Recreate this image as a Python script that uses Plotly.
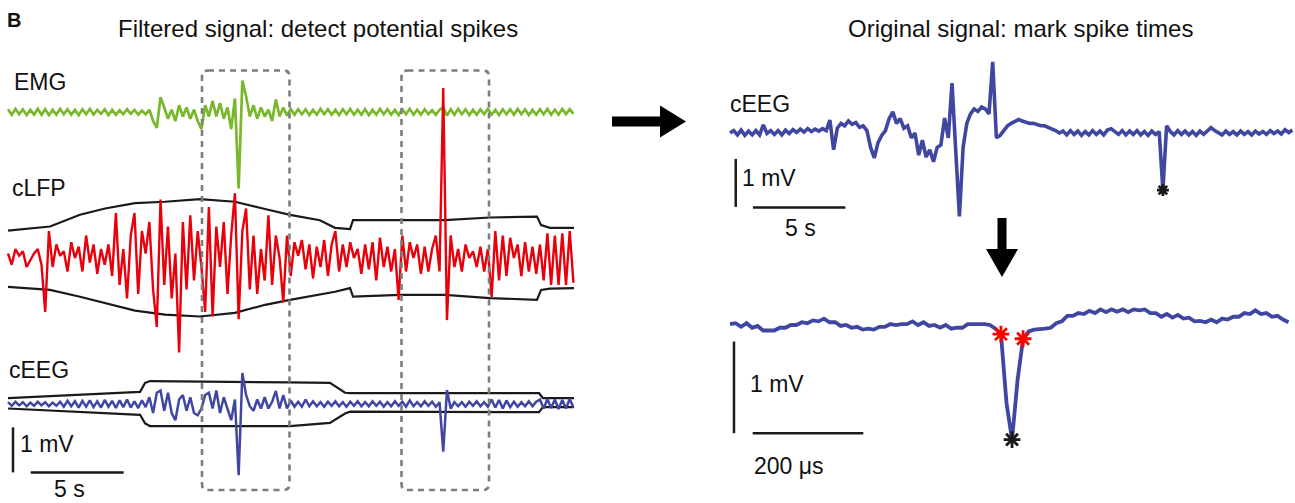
import numpy as np
import plotly.graph_objects as go

# ---------------- data (values in mV) ----------------
DT_LEFT = 0.2      # s between samples, left panel
DT_RTOP = 0.2      # s between samples, right top
DT_ZOOM = 10.0     # microseconds between samples, right bottom

EMG = [0.06,-0.06,0.07,-0.05,0.06,-0.07,0.05,-0.06,0.07,-0.06,
       0.06,-0.07,0.05,-0.06,0.07,-0.05,0.06,-0.06,0.05,-0.07,
       0.06,-0.05,0.07,-0.06,0.05,-0.04,0.06,-0.07,0.05,-0.06,
       0.04,-0.05,0.06,-0.04,0.05,-0.06,0.03,-0.05,0.05,-0.20,
       -0.35,0.33,0.10,-0.15,0.05,-0.20,0.15,-0.10,0.10,-0.15,
       0.05,-0.20,-0.38,0.15,-0.10,0.25,-0.10,0.20,-0.15,0.10,
       -0.38,0.30,-1.70,0.70,0.35,-0.10,0.15,-0.15,0.10,-0.10,
       0.05,-0.20,0.28,-0.10,0.10,-0.08,0.07,-0.06,0.06,-0.05,
       0.06,-0.07,0.05,-0.06,0.07,-0.05,0.06,-0.06,0.05,-0.07,
       0.06,-0.05,0.07,-0.06,0.05,-0.06,0.06,-0.07,0.05,-0.06,
       0.07,-0.05,0.06,-0.06,0.05,-0.07,0.06,-0.05,0.07,-0.06,
       0.05,-0.06,0.06,-0.05,0.04,-0.06,0.05,0.10,-0.08,0.06,
       -0.06,0.07,-0.05,0.06,-0.07,0.05,-0.06,0.06,-0.05,0.07,
       -0.06,0.05,-0.07,0.06,-0.05,0.06,-0.06,0.07,-0.05,0.06,
       -0.07,0.05,-0.06,0.06,-0.05,0.07,-0.06,0.05,-0.06,0.07,
       -0.05,0.06,-0.04]

CLFP = [0.10,-0.15,0.20,0.05,0.15,-0.20,-0.05,0.10,0.20,-0.15,
        -1.20,0.60,-0.20,0.30,0.05,0.15,-0.30,0.35,0.00,0.25,
        -0.30,0.50,-0.10,0.30,-0.35,0.20,-0.15,0.30,-0.40,1.00,
        -0.60,0.20,-0.90,0.50,1.00,-0.80,0.60,0.10,0.80,-0.70,
        -1.53,1.30,-0.60,0.70,-0.90,0.10,-2.10,0.80,-0.70,0.95,
        -0.50,0.60,-0.20,-1.20,1.13,-1.30,0.70,-0.20,0.80,-0.80,
        0.50,1.44,-1.36,0.60,1.10,-0.70,0.50,-0.80,0.20,-0.50,
        0.95,-0.60,0.50,0.00,-0.98,0.50,-0.40,0.35,0.05,0.40,
        -0.25,0.30,-0.45,0.25,-0.20,0.40,-0.40,0.30,0.60,-0.30,
        0.30,-0.20,0.35,0.00,0.20,-0.35,0.30,-0.25,0.35,-0.50,
        0.45,-0.20,0.25,-0.30,0.20,-0.93,0.50,-0.30,0.35,0.00,
        0.30,-0.35,0.25,-0.30,0.20,0.50,-0.30,3.78,-1.38,0.50,
        -0.20,0.20,-0.30,0.30,0.00,0.15,-0.20,0.25,-0.30,0.20,
        -0.87,0.60,-0.50,0.50,-0.40,0.45,0.00,0.30,-0.40,0.35,
        -0.30,0.25,-0.35,0.30,-0.50,0.55,-0.60,0.50,-0.60,0.55,
        -0.60,0.60,-0.55]

CEEG_L = [0.04,-0.04,0.05,-0.03,0.04,-0.05,0.03,-0.04,0.05,-0.03,
          0.04,-0.05,0.03,-0.04,0.05,-0.06,0.07,-0.05,0.06,-0.08,
          0.07,-0.06,0.08,-0.07,0.06,-0.08,0.09,-0.06,0.07,-0.09,
          0.08,-0.07,0.10,-0.08,0.06,-0.09,0.08,-0.07,0.15,-0.20,
          0.25,0.30,-0.15,0.25,-0.20,-0.36,0.10,0.20,-0.15,0.15,
          -0.20,-0.25,-0.10,0.20,0.25,-0.10,0.30,-0.20,0.15,-0.10,
          -0.36,0.10,-1.58,0.69,0.20,-0.05,-0.15,0.10,-0.10,0.15,
          -0.10,0.05,0.29,-0.10,0.20,-0.10,0.08,-0.06,0.05,-0.06,
          0.10,-0.05,0.06,-0.05,0.04,-0.06,0.05,-0.04,0.06,-0.05,
          0.04,-0.06,0.05,-0.04,0.06,-0.05,0.04,-0.05,0.06,-0.04,
          0.05,-0.06,0.04,-0.05,0.06,-0.04,0.05,-0.06,0.08,-0.05,
          0.04,-0.05,0.06,-0.04,0.05,-0.06,0.04,-1.06,0.31,-0.10,
          0.04,-0.05,0.04,-0.06,0.05,-0.04,0.06,-0.05,0.04,-0.06,
          0.10,-0.08,0.09,-0.10,0.08,-0.07,0.05,-0.06,0.04,-0.05,
          0.06,-0.05,0.05,0.10,-0.10,0.11,-0.09,0.10,-0.11,0.09,
          -0.10,0.11,-0.08]

# detection envelopes (time in s, mV)
CLFP_ENV_T = [0, 2.26, 3.87, 5.22, 6.83, 8.44, 10.32, 12.2, 13.82, 15.16, 16.77,
              17.58, 18.39, 18.55, 21.08, 23.49, 25.91, 28.44, 28.66, 29.14, 30.43]
CLFP_ENV_TOP = [0.61, 0.70, 0.96, 1.10, 1.22, 1.25, 1.31, 1.25, 1.09, 0.96, 0.84,
                0.67, 0.64, 0.84, 0.84, 0.84, 0.90, 0.92, 0.73, 0.67, 0.67]
CLFP_ENV_BOT = [-0.64, -0.71, -0.86, -1.00, -1.17, -1.26, -1.30, -1.22, -1.04, -0.93, -0.82,
                -0.75, -0.67, -0.86, -0.82, -0.82, -0.89, -0.93, -0.71, -0.68, -0.67]

CEEG_ENV_T = [0, 7.10, 7.37, 7.63, 15.16, 17.31, 18.12, 18.39, 28.55, 28.76, 30.43]
CEEG_ENV_TOP = [0.13, 0.27, 0.47, 0.51, 0.48, 0.47, 0.25, 0.24, 0.24, 0.13, 0.13]
CEEG_ENV_BOT = [-0.10, -0.24, -0.43, -0.49, -0.49, -0.42, -0.21, -0.17, -0.18, -0.07, -0.07]

CEEG_R = [0.00,0.05,-0.04,0.06,-0.05,0.04,-0.04,0.05,-0.04,0.17,
          -0.01,0.05,-0.03,0.05,-0.04,0.06,-0.01,0.07,0.01,0.08,
          0.02,0.09,0.03,0.08,0.04,0.09,0.05,0.27,-0.35,0.10,
          0.20,0.15,0.25,0.18,0.22,0.12,0.15,0.05,-0.30,-0.52,
          -0.20,-0.05,0.05,0.30,0.44,0.20,0.30,0.10,0.15,-0.10,
          0.00,-0.46,-0.15,-0.50,-0.35,-0.60,-0.30,-0.25,0.31,-0.10,
          1.04,-0.45,-1.74,-0.30,0.20,0.40,0.50,0.45,0.54,0.50,
          0.40,1.48,-0.10,-0.05,0.05,0.15,0.20,0.25,0.28,0.25,
          0.22,0.20,0.20,0.18,0.15,0.15,0.12,0.10,0.05,0.00,
          0.04,-0.04,0.05,-0.03,0.04,-0.05,0.03,-0.04,0.05,-0.03,
          0.04,-0.04,0.06,0.09,0.02,-0.03,0.05,-0.04,0.04,-0.03,
          0.05,-0.04,0.03,-0.05,0.04,-0.03,0.03,-1.19,0.15,0.03,
          -0.04,0.05,-0.03,0.04,-0.04,0.03,-0.05,0.04,-0.03,0.05,
          0.11,0.05,0.01,-0.04,0.04,-0.03,0.03,-0.04,0.04,-0.03,
          0.03,-0.04,0.04,-0.02,0.03,-0.03,0.05,-0.01,0.04,-0.02,
          0.07,0.01,0.06]
CEEG_R_SPIKE_IDX = [117]

CEEG_ZOOM = [0.01,0.02,-0.02,0.02,-0.03,-0.01,-0.06,-0.06,-0.06,-0.03,
             -0.03,0.00,0.00,0.03,0.02,0.05,0.04,0.07,0.03,0.03,
             -0.01,0.00,-0.03,-0.02,-0.05,-0.04,-0.05,-0.02,-0.02,0.01,
             0.00,0.01,0.01,0.04,0.00,0.03,-0.01,0.00,-0.03,0.00,
             -0.04,-0.03,-0.03,0.01,0.01,0.02,0.01,0.00,-0.04,-0.10,
             -0.85,-1.25,-0.60,-0.15,-0.07,-0.05,-0.05,-0.04,-0.03,0.02,
             0.04,0.10,0.10,0.13,0.12,0.155,0.13,0.17,0.14,0.17,
             0.145,0.17,0.14,0.17,0.16,0.17,0.13,0.13,0.09,0.12,
             0.08,0.11,0.07,0.08,0.04,0.045,0.03,0.06,0.03,0.07,
             0.06,0.09,0.09,0.13,0.12,0.16,0.12,0.13,0.09,0.10,
             0.06,0.03]
ZOOM_BOUND_IDX = [49, 53]
ZOOM_PEAK_IDX = [51]

SCALE_MV = 1.0
SCALE_S = 5.0
SCALE_US = 200.0

# ---------------- layout geometry ----------------
W, H = 1295, 503
FONT = "Liberation Sans, Arial, sans-serif"
GREEN, RED, BLUE, BLACK = "#78b82a", "#e8000b", "#4047a1", "#1a1a1a"


def xr(x0_px, ppu):
    return [-x0_px / ppu, (W - x0_px) / ppu]


def yr(yc_px, ppu):
    return [-(H - yc_px) / ppu, yc_px / ppu]


def px(x):
    return x / W


def py(y):
    return 1 - y / H


L_X0, L_PPS, L_PPMV = 8, 18.6, 45
RT_X0, RT_PPS, RT_PPMV = 730, 18.5, 48
RB_X0, RB_PPUS, RB_PPMV = 730, 0.553, 91.7

t_left = np.arange(len(EMG)) * DT_LEFT
t_clfp = np.arange(len(CLFP)) * DT_LEFT
t_ceeg = np.arange(len(CEEG_L)) * DT_LEFT
t_rtop = np.arange(len(CEEG_R)) * DT_RTOP
t_zoom = np.arange(len(CEEG_ZOOM)) * DT_ZOOM

fig = go.Figure()


def line(x, y, xa, ya, color, w=2.0):
    fig.add_trace(go.Scatter(x=x, y=y, xaxis=xa, yaxis=ya, mode="lines",
                             line=dict(color=color, width=w), hoverinfo="skip",
                             showlegend=False))


line(t_left, EMG, "x", "y", GREEN, 2.7)
line(CLFP_ENV_T, CLFP_ENV_TOP, "x", "y2", BLACK, 2.2)
line(CLFP_ENV_T, CLFP_ENV_BOT, "x", "y2", BLACK, 2.2)
line(t_clfp, CLFP, "x", "y2", RED, 2.4)
line(CEEG_ENV_T, CEEG_ENV_TOP, "x", "y3", BLACK, 2.2)
line(CEEG_ENV_T, CEEG_ENV_BOT, "x", "y3", BLACK, 2.2)
line(t_ceeg, CEEG_L, "x", "y3", BLUE, 2.5)
line(t_rtop, CEEG_R, "x2", "y4", BLUE, 3.6)
line(t_zoom, CEEG_ZOOM, "x3", "y5", BLUE, 3.8)


def stars(x, y, xa, ya, color, size):
    fig.add_trace(go.Scatter(x=x, y=y, xaxis=xa, yaxis=ya, mode="markers",
                             marker=dict(symbol="asterisk-open", size=size, color=color,
                                         line=dict(color=color, width=2.8)),
                             hoverinfo="skip", showlegend=False))


stars([t_rtop[i] for i in CEEG_R_SPIKE_IDX], [CEEG_R[i] for i in CEEG_R_SPIKE_IDX],
      "x2", "y4", BLACK, 10)
stars([t_zoom[i] for i in ZOOM_BOUND_IDX], [CEEG_ZOOM[i] for i in ZOOM_BOUND_IDX],
      "x3", "y5", "#ff0000", 14)
stars([t_zoom[i] for i in ZOOM_PEAK_IDX], [CEEG_ZOOM[i] for i in ZOOM_PEAK_IDX],
      "x3", "y5", BLACK, 14)

ax = dict(visible=False, domain=[0, 1], fixedrange=True)
fig.update_layout(
    width=W, height=H, margin=dict(l=0, r=0, t=0, b=0),
    paper_bgcolor="white", plot_bgcolor="rgba(0,0,0,0)",
    xaxis=dict(ax, range=xr(L_X0, L_PPS), anchor="y"),
    xaxis2=dict(ax, range=xr(RT_X0, RT_PPS), anchor="y4"),
    xaxis3=dict(ax, range=xr(RB_X0, RB_PPUS), anchor="y5"),
    yaxis=dict(ax, range=yr(112, L_PPMV), anchor="x"),
    yaxis2=dict(ax, range=yr(258, L_PPMV), anchor="x"),
    yaxis3=dict(ax, range=yr(404, L_PPMV), anchor="x"),
    yaxis4=dict(ax, range=yr(133, RT_PPMV), anchor="x2"),
    yaxis5=dict(ax, range=yr(325, RB_PPMV), anchor="x3"),
    font=dict(family=FONT, color="#111"),
)

shapes = []
# scale bars (data coordinates)
sb = dict(type="line", line=dict(color=BLACK, width=2.5), layer="above")
shapes += [
    dict(sb, xref="x", yref="y3", x0=0.27, x1=0.27, y0=-1.52, y1=-1.52 + SCALE_MV),
    dict(sb, xref="x", yref="y3", x0=1.22, x1=1.22 + SCALE_S, y0=-1.52, y1=-1.52),
    dict(sb, xref="x2", yref="y4", x0=0.31, x1=0.31, y0=-1.54, y1=-1.54 + SCALE_MV),
    dict(sb, xref="x2", yref="y4", x0=1.24, x1=1.24 + SCALE_S, y0=-1.55, y1=-1.55),
    dict(sb, xref="x3", yref="y5", x0=7.2, x1=7.2, y0=-1.18, y1=-1.18 + SCALE_MV),
    dict(sb, xref="x3", yref="y5", x0=41, x1=41 + SCALE_US, y0=-1.18, y1=-1.18),
]


def rounded_box(x0, y0, x1, y1, r=6):
    p = [("M", x0 + r, y0), ("L", x1 - r, y0), ("Q", x1, y0, x1, y0 + r),
         ("L", x1, y1 - r), ("Q", x1, y1, x1 - r, y1), ("L", x0 + r, y1),
         ("Q", x0, y1, x0, y1 - r), ("L", x0, y0 + r), ("Q", x0, y0, x0 + r, y0)]
    s = ""
    for seg in p:
        cmd, coords = seg[0], seg[1:]
        pts = [f"{px(coords[k]):.5f},{py(coords[k + 1]):.5f}" for k in range(0, len(coords), 2)]
        s += cmd + " " + " ".join(pts) + " "
    return s + "Z"


for bx0, bx1 in [(202, 289.5), (401.5, 489)]:
    shapes.append(dict(type="path", xref="paper", yref="paper",
                       path=rounded_box(bx0, 70.5, bx1, 490),
                       line=dict(color="#7d7d7d", width=2.6, dash="6px,5px"),
                       layer="above"))


def poly(points):
    return "M " + " L ".join(f"{px(a):.5f},{py(b):.5f}" for a, b in points) + " Z"


shapes.append(dict(type="path", xref="paper", yref="paper", fillcolor="black",
                   line=dict(width=0),
                   path=poly([(612, 116.5), (660, 116.5), (660, 105.5), (686, 121.5),
                              (660, 137.5), (660, 126.5), (612, 126.5)])))
shapes.append(dict(type="path", xref="paper", yref="paper", fillcolor="black",
                   line=dict(width=0),
                   path=poly([(997.5, 218), (1006.5, 218), (1006.5, 249), (1018, 249),
                              (1002, 277), (986, 249), (997.5, 249)])))
fig.update_layout(shapes=shapes)


def text(s, x, y, size=23, anchor="left", bold=False):
    fig.add_annotation(text=f"<b>{s}</b>" if bold else s, x=px(x), y=py(y),
                       xref="paper", yref="paper", xanchor=anchor, yanchor="middle",
                       showarrow=False, font=dict(size=size, family=FONT, color="#111"))


text("B", 5, 20, 20, bold=True)
text("Filtered signal: detect potential spikes", 318, 28, 24, "center")
text("Original signal: mark spike times", 1020, 28, 24, "center")
text("EMG", 12, 82)
text("cLFP", 10, 188)
text("cEEG", 7, 370)
text("1 mV", 18, 444)
text("5 s", 69, 489, anchor="center")
text("cEEG", 728, 104)
text("1 mV", 740, 178)
text("5 s", 800, 228, anchor="center")
text("1 mV", 748, 384)
text("200 μs", 752, 466)

fig.write_html("out.html")
